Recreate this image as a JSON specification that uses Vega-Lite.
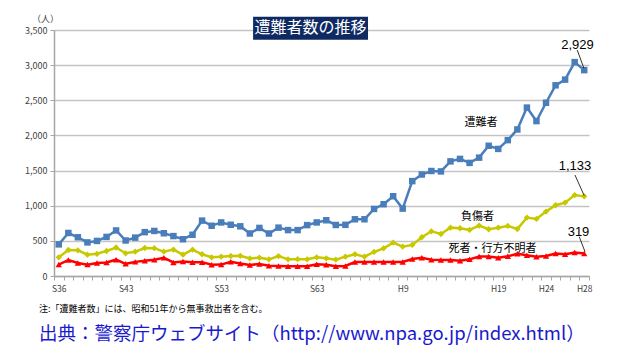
{
  "$schema": "https://vega.github.io/schema/vega-lite/v6.json",
  "width": 535,
  "height": 246,
  "autosize": {"type": "none"},
  "padding": {"left": 54, "top": 30, "right": 30, "bottom": 84},
  "background": "white",
  "config": {"font": "Noto Sans CJK JP", "view": {"stroke": null}},
  "title": {
    "text": "注:「遭難者数」には、昭和51年から無事救出者を含む。",
    "subtitle": "出典：警察庁ウェブサイト（http://www.npa.go.jp/index.html）",
    "orient": "bottom",
    "anchor": "start",
    "frame": "group",
    "dx": -15,
    "offset": 12,
    "fontSize": 9,
    "fontWeight": "normal",
    "color": "#000000",
    "subtitleFontSize": 18.5,
    "subtitleColor": "#1a1acd",
    "subtitlePadding": 11
  },
  "datasets": {
    "victims": [
      {"year": 1961, "value": 450}, {"year": 1962, "value": 612}, {"year": 1963, "value": 551}, {"year": 1964, "value": 478},
      {"year": 1965, "value": 499}, {"year": 1966, "value": 556}, {"year": 1967, "value": 648}, {"year": 1968, "value": 505},
      {"year": 1969, "value": 546}, {"year": 1970, "value": 624}, {"year": 1971, "value": 641}, {"year": 1972, "value": 608},
      {"year": 1973, "value": 568}, {"year": 1974, "value": 523}, {"year": 1975, "value": 587}, {"year": 1976, "value": 788},
      {"year": 1977, "value": 715}, {"year": 1978, "value": 762}, {"year": 1979, "value": 729}, {"year": 1980, "value": 707},
      {"year": 1981, "value": 605}, {"year": 1982, "value": 684}, {"year": 1983, "value": 605}, {"year": 1984, "value": 688},
      {"year": 1985, "value": 653}, {"year": 1986, "value": 653}, {"year": 1987, "value": 724}, {"year": 1988, "value": 762},
      {"year": 1989, "value": 793}, {"year": 1990, "value": 726}, {"year": 1991, "value": 728}, {"year": 1992, "value": 807},
      {"year": 1993, "value": 807}, {"year": 1994, "value": 954}, {"year": 1995, "value": 1021}, {"year": 1996, "value": 1135},
      {"year": 1997, "value": 959}, {"year": 1998, "value": 1350}, {"year": 1999, "value": 1444}, {"year": 2000, "value": 1494},
      {"year": 2001, "value": 1488}, {"year": 2002, "value": 1631}, {"year": 2003, "value": 1666}, {"year": 2004, "value": 1609},
      {"year": 2005, "value": 1684}, {"year": 2006, "value": 1853}, {"year": 2007, "value": 1808}, {"year": 2008, "value": 1933},
      {"year": 2009, "value": 2085}, {"year": 2010, "value": 2396}, {"year": 2011, "value": 2204}, {"year": 2012, "value": 2465},
      {"year": 2013, "value": 2713}, {"year": 2014, "value": 2794}, {"year": 2015, "value": 3043}, {"year": 2016, "value": 2929}
    ],
    "injured": [
      {"year": 1961, "value": 266}, {"year": 1962, "value": 370}, {"year": 1963, "value": 365}, {"year": 1964, "value": 304},
      {"year": 1965, "value": 316}, {"year": 1966, "value": 356}, {"year": 1967, "value": 405}, {"year": 1968, "value": 323},
      {"year": 1969, "value": 346}, {"year": 1970, "value": 398}, {"year": 1971, "value": 396}, {"year": 1972, "value": 346},
      {"year": 1973, "value": 375}, {"year": 1974, "value": 303}, {"year": 1975, "value": 375}, {"year": 1976, "value": 309},
      {"year": 1977, "value": 266}, {"year": 1978, "value": 275}, {"year": 1979, "value": 285}, {"year": 1980, "value": 287},
      {"year": 1981, "value": 250}, {"year": 1982, "value": 261}, {"year": 1983, "value": 237}, {"year": 1984, "value": 283},
      {"year": 1985, "value": 237}, {"year": 1986, "value": 240}, {"year": 1987, "value": 237}, {"year": 1988, "value": 266},
      {"year": 1989, "value": 252}, {"year": 1990, "value": 232}, {"year": 1991, "value": 275}, {"year": 1992, "value": 309},
      {"year": 1993, "value": 275}, {"year": 1994, "value": 342}, {"year": 1995, "value": 394}, {"year": 1996, "value": 475},
      {"year": 1997, "value": 418}, {"year": 1998, "value": 442}, {"year": 1999, "value": 551}, {"year": 2000, "value": 636},
      {"year": 2001, "value": 598}, {"year": 2002, "value": 688}, {"year": 2003, "value": 679}, {"year": 2004, "value": 655},
      {"year": 2005, "value": 717}, {"year": 2006, "value": 665}, {"year": 2007, "value": 688}, {"year": 2008, "value": 712},
      {"year": 2009, "value": 669}, {"year": 2010, "value": 831}, {"year": 2011, "value": 812}, {"year": 2012, "value": 916},
      {"year": 2013, "value": 1007}, {"year": 2014, "value": 1044}, {"year": 2015, "value": 1151}, {"year": 2016, "value": 1133}
    ],
    "dead": [
      {"year": 1961, "value": 162}, {"year": 1962, "value": 228}, {"year": 1963, "value": 185}, {"year": 1964, "value": 162},
      {"year": 1965, "value": 185}, {"year": 1966, "value": 192}, {"year": 1967, "value": 232}, {"year": 1968, "value": 173},
      {"year": 1969, "value": 201}, {"year": 1970, "value": 216}, {"year": 1971, "value": 232}, {"year": 1972, "value": 259},
      {"year": 1973, "value": 193}, {"year": 1974, "value": 206}, {"year": 1975, "value": 197}, {"year": 1976, "value": 197},
      {"year": 1977, "value": 159}, {"year": 1978, "value": 162}, {"year": 1979, "value": 202}, {"year": 1980, "value": 178},
      {"year": 1981, "value": 157}, {"year": 1982, "value": 170}, {"year": 1983, "value": 147}, {"year": 1984, "value": 142},
      {"year": 1985, "value": 138}, {"year": 1986, "value": 138}, {"year": 1987, "value": 140}, {"year": 1988, "value": 166},
      {"year": 1989, "value": 161}, {"year": 1990, "value": 138}, {"year": 1991, "value": 142}, {"year": 1992, "value": 199},
      {"year": 1993, "value": 199}, {"year": 1994, "value": 199}, {"year": 1995, "value": 199}, {"year": 1996, "value": 199},
      {"year": 1997, "value": 199}, {"year": 1998, "value": 242}, {"year": 1999, "value": 261}, {"year": 2000, "value": 232},
      {"year": 2001, "value": 228}, {"year": 2002, "value": 228}, {"year": 2003, "value": 218}, {"year": 2004, "value": 237},
      {"year": 2005, "value": 278}, {"year": 2006, "value": 278}, {"year": 2007, "value": 259}, {"year": 2008, "value": 281},
      {"year": 2009, "value": 317}, {"year": 2010, "value": 294}, {"year": 2011, "value": 275}, {"year": 2012, "value": 284},
      {"year": 2013, "value": 320}, {"year": 2014, "value": 311}, {"year": 2015, "value": 335}, {"year": 2016, "value": 319}
    ],
    "box": [{"year": 1981.34, "year2": 1993.37, "value": 3689, "value2": 3362}],
    "boxlabel": [{"year": 1987.35, "value": 3526, "label": "遭難者数の推移"}],
    "names": [
      {"year": 2005.19, "value": 2172, "label": "遭難者"},
      {"year": 2004.83, "value": 835, "label": "負傷者"},
      {"year": 2006.4, "value": 384, "label": "死者・行方不明者"}
    ],
    "nums": [
      {"year": 2015.29, "value": 3287, "label": "2,929"},
      {"year": 2015.03, "value": 1565, "label": "1,133"},
      {"year": 2015.4, "value": 630, "label": "319"}
    ],
    "leaders": [
      {"year": 2015.27, "year2": 2015.97, "value": 3215, "value2": 2955},
      {"year": 2015.03, "year2": 2016.0, "value": 1437, "value2": 1142},
      {"year": 2015.48, "year2": 2016.08, "value": 559, "value2": 346}
    ]
  },
  "encoding": {
    "x": {
      "field": "year", "type": "quantitative",
      "scale": {"domain": [1960.5, 2016.5], "nice": false, "zero": false},
      "axis": {
        "values": [1960.5, 1961.5, 1962.5, 1963.5, 1964.5, 1965.5, 1966.5, 1967.5, 1968.5, 1969.5, 1970.5, 1971.5, 1972.5, 1973.5, 1974.5, 1975.5, 1976.5, 1977.5, 1978.5, 1979.5, 1980.5, 1981.5, 1982.5, 1983.5, 1984.5, 1985.5, 1986.5, 1987.5, 1988.5, 1989.5, 1990.5, 1991.5, 1992.5, 1993.5, 1994.5, 1995.5, 1996.5, 1997.5, 1998.5, 1999.5, 2000.5, 2001.5, 2002.5, 2003.5, 2004.5, 2005.5, 2006.5, 2007.5, 2008.5, 2009.5, 2010.5, 2011.5, 2012.5, 2013.5, 2014.5, 2015.5, 2016.5],
        "labelExpr": "indexof([1961,1968,1978,1988,1997,2007,2012,2016], datum.value + 0.5) >= 0 ? ((datum.value + 0.5) <= 1988 ? 'S' + (datum.value + 0.5 - 1925) : 'H' + (datum.value + 0.5 - 1988)) : ''",
        "labelOffset": 4.777,
        "labelFlush": false,
        "labelOverlap": false,
        "labelFontSize": 8.5,
        "labelColor": "#404040",
        "labelPadding": 4,
        "tickSize": 4,
        "tickColor": "#a6a6a6",
        "domainColor": "#a6a6a6",
        "domainWidth": 1.5,
        "grid": false,
        "title": null
      }
    },
    "y": {
      "field": "value", "type": "quantitative",
      "scale": {"domain": [0, 3500], "nice": false},
      "axis": {
        "values": [0, 500, 1000, 1500, 2000, 2500, 3000, 3500],
        "format": ",.0f",
        "grid": true,
        "gridColor": "#c4c4c4",
        "gridWidth": 1.5,
        "domainColor": "#a6a6a6",
        "domainWidth": 1.5,
        "tickColor": "#a6a6a6",
        "tickSize": 4,
        "labelFontSize": 9,
        "labelColor": "#404040",
        "labelPadding": 3,
        "title": "（人）",
        "titleAngle": 0,
        "titleX": -9,
        "titleY": -12,
        "titleFontSize": 9,
        "titleFontWeight": "normal",
        "titleColor": "#404040",
        "titleAlign": "center",
        "titleBaseline": "middle"
      }
    }
  },
  "layer": [
    {"data": {"name": "victims"}, "mark": {"type": "line", "color": "#4a7ebb", "strokeWidth": 2.5}},
    {"data": {"name": "victims"}, "mark": {"type": "point", "shape": "square", "filled": true, "opacity": 1, "size": 42, "color": "#4a7ebb"}},
    {"data": {"name": "injured"}, "mark": {"type": "line", "color": "#c8c800", "strokeWidth": 2.5}},
    {"data": {"name": "injured"}, "mark": {"type": "point", "shape": "diamond", "filled": true, "opacity": 1, "size": 40, "color": "#c8c800"}},
    {"data": {"name": "dead"}, "mark": {"type": "line", "color": "#ff0000", "strokeWidth": 2.5}},
    {"data": {"name": "dead"}, "mark": {"type": "point", "shape": "triangle-up", "filled": true, "opacity": 1, "size": 40, "color": "#ff0000"}},
    {
      "data": {"name": "leaders"},
      "mark": {"type": "rule", "color": "#000000", "strokeWidth": 0.8},
      "encoding": {"x2": {"field": "year2"}, "y2": {"field": "value2"}}
    },
    {
      "data": {"name": "box"},
      "mark": {"type": "rect", "color": "#0f2a63"},
      "encoding": {"x2": {"field": "year2"}, "y2": {"field": "value2"}}
    },
    {
      "data": {"name": "boxlabel"},
      "mark": {"type": "text", "color": "#ffffff", "fontSize": 16, "align": "center", "baseline": "middle"},
      "encoding": {"text": {"field": "label"}}
    },
    {
      "data": {"name": "names"},
      "mark": {"type": "text", "color": "#000000", "fontSize": 11, "align": "center", "baseline": "middle"},
      "encoding": {"text": {"field": "label"}}
    },
    {
      "data": {"name": "nums"},
      "mark": {"type": "text", "color": "#000000", "fontSize": 13, "font": "Liberation Sans", "align": "center", "baseline": "middle"},
      "encoding": {"text": {"field": "label"}}
    }
  ]
}
